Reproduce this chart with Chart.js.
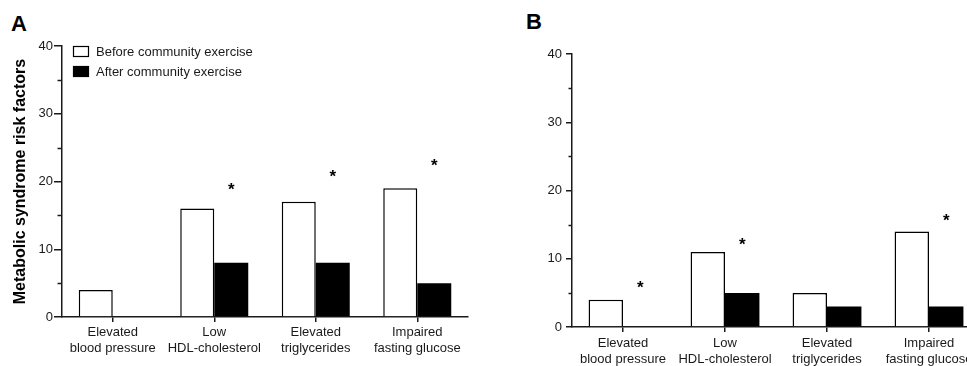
<!DOCTYPE html>
<html>
<head>
<meta charset="utf-8">
<script src="https://cdn.jsdelivr.net/npm/chart.js@4.4.1/dist/chart.umd.min.js"></script>
<style>
  html, body { margin:0; padding:0; background:#fff; width:967px; height:366px; overflow:hidden; position:relative; }
  canvas { position:absolute; top:0; }
  .tag { position:absolute; font:bold 22px "Liberation Sans", Arial, sans-serif; line-height:22px; color:#000; }
</style>
</head>
<body>
<div class="tag" style="left:11px;top:13px">A</div>
<div class="tag" style="left:526px;top:11px">B</div>
<canvas id="chartA" width="480" height="366" style="left:0"></canvas>
<canvas id="chartB" width="500" height="366" style="left:500px"></canvas>

<script>
// categories shared by both panels
const categories = [
  ['Elevated', 'blood pressure'],
  ['Low', 'HDL-cholesterol'],
  ['Elevated', 'triglycerides'],
  ['Impaired', 'fasting glucose']
];
const seriesNames = ['Before community exercise', 'After community exercise'];

// panel A
const beforeA = [4, 16, 17, 19];
const afterA  = [0, 8, 8, 5];
const starsA  = [null, 19.2, 21.1, 22.8];

// panel B
const beforeB = [4, 11, 5, 14];
const afterB  = [0, 5, 3, 3];
const starsB  = [6.2, 12.5, null, 16.0];

const yMin = 0, yMax = 40, yStep = 10;

const FONT = '"Liberation Sans", Arial, sans-serif';
const INK = '#1a1a1a';

// short minor ticks half way between the labelled ones
const minorTicks = {
  id:'minorTicks',
  afterDraw(chart, args, opts){
    const y = chart.scales.y, ctx = chart.ctx;
    const ticks = y.ticks.map(t => t.value);
    ctx.save();
    ctx.strokeStyle = INK; ctx.lineWidth = 1.5;
    for(let i = 0; i < ticks.length - 1; i++){
      const py = Math.round(y.getPixelForValue((ticks[i] + ticks[i+1]) / 2)) + 0.5;
      ctx.beginPath();
      ctx.moveTo(y.right - opts.len, py);
      ctx.lineTo(y.right, py);
      ctx.stroke();
    }
    ctx.restore();
  }
};

// significance asterisks over the "after" bars
const stars = {
  id:'stars',
  afterDatasetsDraw(chart, args, opts){
    const meta = chart.getDatasetMeta(1);
    const y = chart.scales.y, ctx = chart.ctx;
    ctx.save();
    ctx.fillStyle = '#000';
    ctx.font = 'bold 17px ' + FONT;
    ctx.textAlign = 'center';
    ctx.textBaseline = 'alphabetic';
    opts.values.forEach((v, i) => {
      if(v == null) return;
      ctx.fillText('*', meta.data[i].x, y.getPixelForValue(v) + 8);
    });
    ctx.restore();
  }
};

// legend boxes inside the plot area of panel A
const boxLegend = {
  id:'boxLegend',
  afterDraw(chart, args, opts){
    if(!opts.show) return;
    const ctx = chart.ctx, a = chart.chartArea;
    ctx.save();
    ctx.font = '13px ' + FONT;
    ctx.textBaseline = 'middle';
    chart.data.datasets.forEach((ds, i) => {
      const bx = a.left + 11, by = a.top + i * 20;
      ctx.fillStyle = ds.backgroundColor;
      ctx.fillRect(bx, by, 16, 11);
      ctx.strokeStyle = '#000'; ctx.lineWidth = 1.2;
      ctx.strokeRect(bx + 0.5, by + 0.5, 15, 10);
      ctx.fillStyle = INK;
      ctx.fillText(ds.label, a.left + 34, by + 6);
    });
    ctx.restore();
  }
};

function makeChart(id, before, after, starVals, o){
  return new Chart(document.getElementById(id), {
    type:'bar',
    data:{
      labels: categories,
      datasets:[
        { label: seriesNames[0], data: before, backgroundColor:'#ffffff', borderColor:'#000', borderWidth:1.5,
          categoryPercentage:o.catPct, barPercentage:1 },
        { label: seriesNames[1], data: after, backgroundColor:'#000000', borderColor:'#000', borderWidth:0,
          categoryPercentage:o.catPct, barPercentage:1 }
      ]
    },
    options:{
      responsive:false,
      animation:false,
      layout:{ padding:{ top:o.top, right:o.right, bottom:0, left:0 } },
      plugins:{
        legend:{ display:false },
        tooltip:{ enabled:false },
        minorTicks:{ len:o.minorLen },
        stars:{ values:starVals },
        boxLegend:{ show:o.legend }
      },
      scales:{
        x:{
          grid:{ offset:false, drawOnChartArea:false, tickLength:5, color:INK, lineWidth:1.5 },
          border:{ color:INK, width:1.5 },
          ticks:{ color:INK, font:{ family:FONT, size:13 }, padding:o.xPad, maxRotation:0, autoSkip:false },
          afterFit(s){ s.height = o.xHeight; }
        },
        y:{
          min:yMin, max:yMax,
          grid:{ drawOnChartArea:false, tickLength:o.tickLen, color:INK, lineWidth:1.5 },
          border:{ color:INK, width:1.5 },
          ticks:{ stepSize:yStep, color:INK, font:{ family:FONT, size:13 }, padding:o.yPad },
          title:{ display:o.title, text:'Metabolic syndrome risk factors', color:'#000',
                  font:{ family:FONT, size:16, weight:'bold' }, padding:{ top:11, bottom:0 } },
          afterFit(s){ s.width = o.yWidth; }
        }
      }
    },
    plugins:[minorTicks, stars, boxLegend]
  });
}

makeChart('chartA', beforeA, afterA, starsA, {
  catPct:0.67, top:46, right:12, xHeight:49, xPad:3, yWidth:62, tickLen:8, yPad:1, minorLen:4.5, title:true, legend:true
});
makeChart('chartB', beforeB, afterB, starsB, {
  catPct:0.675, top:54, right:20, xHeight:39, xPad:4, yWidth:72, tickLen:6, yPad:4, minorLen:3.5, title:false, legend:false
});
</script>
</body>
</html>
